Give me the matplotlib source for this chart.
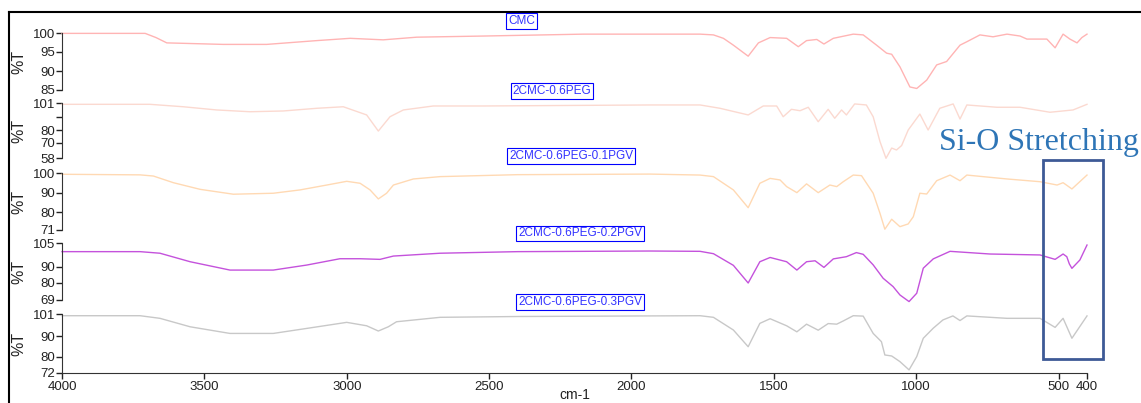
import matplotlib.pyplot as plt
from matplotlib.lines import Line2D
from matplotlib.patches import Rectangle

plt.rcParams['font.family'] = ['Liberation Sans', 'DejaVu Sans']

# FTIR spectra: wavenumber (cm-1) and transmittance (%T)
cmc_wn = [4000, 3708, 3670, 3632, 3434, 3281, 3105, 2988, 2872, 2754, 2520, 2169, 1935, 1759,
          1712, 1677, 1642, 1590, 1554, 1513, 1455, 1414, 1385, 1349, 1324, 1291, 1221, 1186,
          1139, 1104, 1086, 1057, 1022, 998, 963, 928, 893, 846, 822, 776, 730, 681, 635, 611,
          541, 512, 484, 460, 435, 418, 400]
cmc_t = [99.9, 99.9, 98.8, 97.4, 97.0, 97.0, 98.0, 98.6, 98.2, 98.9, 99.2, 99.7, 99.7, 99.7,
         99.5, 98.6, 96.8, 93.9, 97.4, 98.8, 98.6, 96.4, 98.0, 98.3, 97.1, 98.6, 99.7, 99.5,
         96.8, 94.7, 94.4, 91.1, 85.8, 85.4, 87.6, 91.6, 92.5, 96.8, 97.7, 99.5, 99.0, 99.7,
         99.2, 98.4, 98.4, 96.1, 99.7, 98.4, 97.4, 98.8, 99.7]

peg_wn = [4000, 3691, 3574, 3457, 3340, 3223, 3105, 3012, 2930, 2889, 2848, 2801, 2696, 2521,
          1935, 1759, 1689, 1590, 1537, 1490, 1467, 1438, 1408, 1379, 1344, 1309, 1286, 1262,
          1245, 1216, 1175, 1151, 1127, 1106, 1086, 1069, 1051, 1028, 987, 958, 917, 870, 846,
          822, 716, 635, 530, 449, 400]
peg_t = [100.2, 100.2, 98.3, 95.8, 94.4, 95.0, 97.1, 98.3, 91.9, 79.3, 90.5, 95.8, 98.9, 98.9,
         99.7, 99.7, 97.1, 91.9, 98.9, 98.9, 90.5, 96.3, 95.2, 97.9, 86.6, 96.3, 89.3, 95.8,
         91.9, 100.5, 99.7, 90.5, 71.0, 58.0, 66.0, 64.5, 68.0, 80.1, 92.6, 80.1, 97.1, 100.5,
         88.7, 99.7, 97.9, 97.9, 94.0, 95.8, 100.2]

pgv1_wn = [4000, 3726, 3679, 3609, 3515, 3398, 3258, 3164, 3070, 3000, 2953, 2918, 2889, 2860,
           2836, 2766, 2672, 2400, 1935, 1759, 1712, 1642, 1590, 1549, 1513, 1478, 1455, 1419,
           1385, 1344, 1303, 1279, 1256, 1221, 1192, 1151, 1127, 1110, 1086, 1057, 1028, 1010,
           987, 963, 928, 881, 846, 822, 681, 565, 505, 484, 453, 400]
pgv1_t = [99.5, 99.2, 98.6, 95.2, 91.8, 89.3, 89.8, 91.5, 94.0, 95.9, 94.9, 91.5, 86.9, 89.8,
          94.0, 97.1, 98.3, 99.3, 99.6, 99.1, 98.3, 91.5, 82.4, 94.9, 97.4, 96.6, 93.2, 90.1,
          94.6, 90.1, 94.0, 93.2, 95.7, 99.1, 98.8, 89.8, 79.5, 71.4, 76.5, 72.7, 74.1, 77.8,
          89.8, 89.4, 96.2, 99.1, 96.2, 99.1, 97.1, 95.7, 94.0, 95.2, 92.0, 99.1]

pgv2_wn = [4000, 3726, 3656, 3550, 3410, 3258, 3140, 3024, 2953, 2883, 2836, 2672, 2400, 1935,
           1759, 1712, 1642, 1590, 1549, 1513, 1455, 1419, 1385, 1355, 1324, 1291, 1245, 1210,
           1186, 1151, 1116, 1081, 1057, 1025, 998, 975, 940, 881, 741, 565, 512, 484, 471,
           462, 453, 425, 400]
pgv2_t = [99.7, 99.7, 98.7, 93.3, 88.0, 88.0, 91.2, 95.2, 95.2, 94.8, 96.9, 98.7, 99.7, 100.1,
          99.9, 98.4, 91.0, 79.8, 93.3, 96.0, 93.3, 88.0, 93.3, 93.9, 89.7, 95.1, 96.5, 99.1,
          98.0, 91.3, 82.8, 77.5, 72.2, 68.0, 73.3, 89.2, 95.1, 99.9, 98.2, 97.6, 94.8, 98.2,
          96.5, 91.9, 89.1, 94.4, 103.9]

pgv3_wn = [4000, 3726, 3656, 3550, 3410, 3258, 3140, 3000, 2930, 2889, 2854, 2825, 2672, 2400,
           1935, 1759, 1712, 1642, 1590, 1549, 1513, 1455, 1419, 1385, 1344, 1309, 1279, 1256,
           1221, 1186, 1151, 1122, 1110, 1086, 1057, 1025, 998, 975, 940, 906, 871, 846, 822,
           681, 565, 512, 484, 453, 400]
pgv3_t = [100.3, 100.3, 99.0, 94.8, 91.5, 91.5, 94.0, 97.0, 95.3, 92.7, 94.8, 97.3, 99.5, 99.9,
          100.2, 100.3, 99.5, 93.2, 84.9, 96.5, 98.8, 95.3, 92.3, 96.1, 93.1, 96.4, 96.1, 97.7,
          100.3, 100.1, 91.5, 87.4, 80.8, 80.3, 77.5, 73.4, 80.0, 89.1, 94.1, 98.2, 100.2, 97.9,
          100.2, 99.0, 99.0, 94.5, 99.0, 89.1, 100.2]

names = ['CMC', '2CMC-0.6PEG', '2CMC-0.6PEG-0.1PGV', '2CMC-0.6PEG-0.2PGV', '2CMC-0.6PEG-0.3PGV']
spectra = [(cmc_wn, cmc_t), (peg_wn, peg_t), (pgv1_wn, pgv1_t), (pgv2_wn, pgv2_t), (pgv3_wn, pgv3_t)]
colors = ['#ffb4b4', '#fbd9d0', '#ffd9b3', '#c452dc', '#c8c8c8']
y_ticks = [[100, 95, 90, 85], [101, 90, 80, 70, 58], [100, 90, 80, 71],
           [105, 90, 80, 69], [101, 90, 80, 72]]
y_ticklabels = [['100', '95', '90', '85'], ['101', '', '80', '70', '58'],
                ['100', '90', '80', '71'], ['105', '90', '80', '69'], ['101', '90', '80', '72']]
x_ticks = [4000, 3500, 3000, 2500, 2000, 1500, 1000, 500, 400]

# pixel layout of the stacked panels (top, bottom) and name boxes (x, y)
W, H = 1141, 403
x0, x1 = 62, 1087
panel_px = [(33, 90), (103.3, 158.3), (173.3, 230), (243.3, 300), (314.3, 372.7)]
name_px = [(521.5, 21), (552, 91), (571, 156), (580, 233.5), (580, 302)]

fig = plt.figure(figsize=(W / 100, H / 100), dpi=100)

for i, ((wn, t), (top, bot)) in enumerate(zip(spectra, panel_px)):
    ax = fig.add_axes([x0 / W, 1 - bot / H, (x1 - x0) / W, (bot - top) / H])
    ax.patch.set_alpha(0)
    ax.plot(wn, t, color=colors[i], lw=1.0, clip_on=False, solid_joinstyle='round')
    ax.set_xlim(4000, 400)
    ax.set_ylim(y_ticks[i][-1], y_ticks[i][0])
    for s in ['top', 'right']:
        ax.spines[s].set_visible(False)
    ax.spines['left'].set_color('#333333')
    ax.set_yticks(y_ticks[i])
    ax.set_yticklabels(y_ticklabels[i])
    ax.tick_params(axis='y', direction='out', length=4, width=1, labelsize=9.5,
                   pad=1, colors='#222222')
    ax.set_ylabel('%T', fontsize=11.5, color='#222222')
    ax.yaxis.set_label_coords((26 - x0) / (x1 - x0), 0.5)
    if i < len(spectra) - 1:
        ax.spines['bottom'].set_visible(False)
        ax.set_xticks([])
    else:
        ax.spines['bottom'].set_color('#333333')
        ax.set_xticks(x_ticks)
        ax.set_xticklabels([str(v) for v in x_ticks])
        ax.tick_params(axis='x', direction='out', length=4, width=1, labelsize=9.5,
                       pad=2, colors='#222222')

    nx, ny = name_px[i]
    fig.text(nx / W, 1 - ny / H, names[i], ha='center', va='center', fontsize=8.5,
             color='#3333ff',
             bbox=dict(boxstyle='square,pad=0.15', fc='white', ec='#0000ff', lw=0.8))

fig.text(574.5 / W, 1 - 402 / H, 'cm-1', ha='center', va='bottom', fontsize=10, color='#222222')

# Si-O band highlight
fig.text(1039 / W, 1 - 150 / H, 'Si-O Stretching', ha='center', va='baseline',
         fontsize=23, color='#2e75b6', family='Liberation Serif')
fig.add_artist(Rectangle((1043 / W, 1 - 358.5 / H), 60 / W, 199 / H,
                         transform=fig.transFigure, fill=False, ec='#3d5a96', lw=2))

# outer frame edges
fig.add_artist(Line2D([9 / W, 1], [1 - 12 / H, 1 - 12 / H], color='black', lw=1.5))
fig.add_artist(Line2D([9 / W, 9 / W], [0, 1 - 12 / H], color='black', lw=1.5))

fig.savefig('out.png', dpi=100)
